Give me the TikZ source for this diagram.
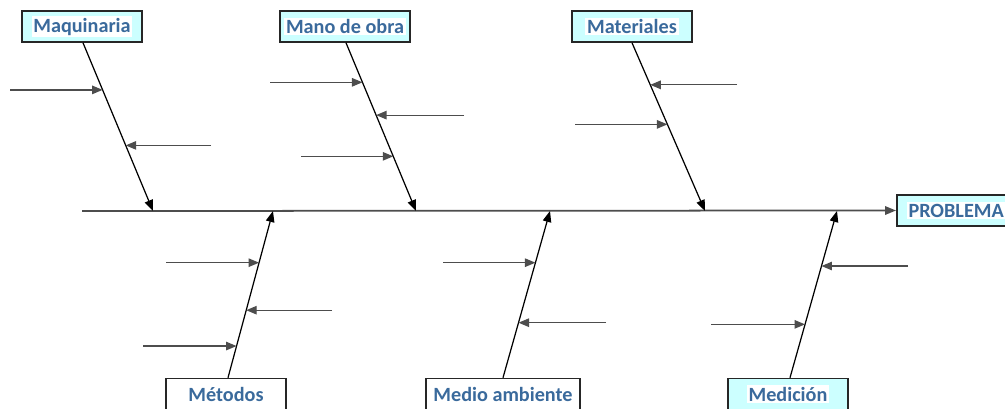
\documentclass[tikz,border=0pt]{standalone}
\usepackage{fontspec}
\setmainfont{Carlito}
\usetikzlibrary{arrows.meta,calc}
\definecolor{titulo}{HTML}{3A6A9C}
\definecolor{fondo}{HTML}{CCFFFF}
\definecolor{linea}{HTML}{4D4D4D}
\tikzset{
  caja/.style={draw=black!85,line width=0.9pt,fill=fondo,minimum height=0.62cm,inner sep=1pt,
    font=\bfseries\fontsize{11.5}{12}\selectfont,text=titulo},
  cajab/.style={caja,fill=white},
  hueso/.style={line width=0.7pt,-{Triangle[length=2.2mm,width=1.7mm]}},
  causa/.style={line width=0.7pt,draw=linea,-{Triangle[length=2.1mm,width=1.7mm]}},
}
\newcommand{\rot}[1]{\setlength{\fboxsep}{1pt}\colorbox{white}{#1}}
\begin{document}
\begin{tikzpicture}[x=0.02cm,y=-0.02cm]
\useasboundingbox (0,0) rectangle (1005,409);
\clip (0,0) rectangle (1005,409);
% cajas
\node[caja,minimum width=2.4cm] (maq) at (82,26.5) {\rot{Maquinaria}};
\node[caja,minimum width=2.6cm] (mano) at (345,26.5) {\rot{Mano de obra}};
\node[caja,minimum width=2.4cm] (mat) at (632,26.5) {\rot{Materiales}};
\node[cajab,minimum width=2.4cm] (met) at (226,394) {Métodos};
\node[cajab,minimum width=3.08cm] (med) at (503,394) {Medio ambiente};
\node[caja,minimum width=2.4cm] (medi) at (788,394) {\rot{Medición}};
\node[caja,anchor=west,inner xsep=0.2cm] (prob) at (896,210.5) {\rot{PROBLEMA}};
% espina
\coordinate (s0) at (82,211);
\draw[line width=1pt,draw=linea,-{Triangle[length=2.2mm,width=1.7mm]}] (s0) -- (prob.west);
% huesos
\coordinate (e1) at (153,211);
\coordinate (e2) at (416,211);
\coordinate (e3) at (705,211);
\coordinate (e4) at (273,211);
\coordinate (e5) at (550,211);
\coordinate (e6) at (837,211);
\draw[hueso] ($(maq.south)+(1,0)$) -- (e1) coordinate[pos=0.28] (a1) coordinate[pos=0.61] (a2);
\draw[hueso] ($(mano.south)+(1,0)$) -- (e2) coordinate[pos=0.235] (b1) coordinate[pos=0.43] (b2) coordinate[pos=0.675] (b3);
\draw[hueso] (mat.south) -- (e3) coordinate[pos=0.25] (c1) coordinate[pos=0.485] (c2);
\draw[hueso] ($(met.north)+(2,0)$) -- (e4) coordinate[pos=0.19] (d1) coordinate[pos=0.405] (d2) coordinate[pos=0.69] (d3);
\draw[hueso] (med.north) -- (e5) coordinate[pos=0.33] (f1) coordinate[pos=0.69] (f2);
\draw[hueso] ($(medi.north)+(2,0)$) -- (e6) coordinate[pos=0.32] (g1) coordinate[pos=0.67] (g2);
% causas
\foreach \ini/\fin in {10/a1,211/a2,270/b1,464/b2,301/b3,737/c1,575/c2,143/d1,332/d2,166/d3,606/f1,443/f2,711/g1,908/g2}
  \draw[causa] (\fin -| \ini,0) -- (\fin);
\end{tikzpicture}
\end{document}
